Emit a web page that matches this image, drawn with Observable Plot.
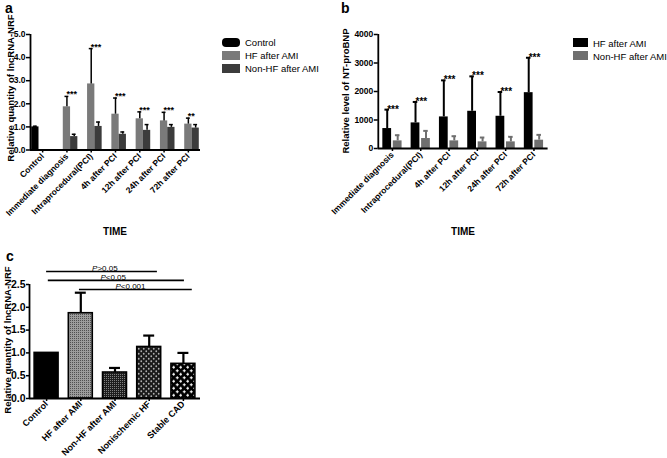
<!DOCTYPE html>
<html><head><meta charset="utf-8">
<script src="https://cdn.jsdelivr.net/npm/d3@7"></script>
<script src="https://cdn.jsdelivr.net/npm/@observablehq/plot@0.6"></script>
<style>
body{margin:0;background:#fff;}
#root{position:relative;width:667px;height:458px;overflow:hidden;font-family:"Liberation Sans",Arial,sans-serif;color:#000;}
.abs{position:absolute;white-space:nowrap;}
.ctr{transform:translate(-50%,-50%);}
.rot{transform:translate(-50%,-50%) rotate(-90deg);}
.panel svg{overflow:visible;}
.panel [aria-label*="axis"] line,.panel [aria-label*="axis"] path{stroke-width:1.5px;}
#pc [aria-label^="x-axis"] text{font-size:9px;}
.sw{position:absolute;}
</style></head>
<body>
<svg width="0" height="0" style="position:absolute">
<defs>
<pattern id="pHF" width="2" height="2" patternUnits="userSpaceOnUse"><rect width="2" height="2" fill="#9c9c9c"/><rect width="1" height="1" fill="#505050"/></pattern>
<pattern id="pNonHF" width="2" height="2" patternUnits="userSpaceOnUse"><rect width="2" height="2" fill="#1e1e1e"/><rect width="1" height="1" fill="#808080"/></pattern>
<pattern id="pNonisch" width="5" height="5" patternUnits="userSpaceOnUse"><rect width="5" height="5" fill="#1a1a1a"/><circle cx="1.25" cy="1.25" r="0.9" fill="#b0b0b0"/><circle cx="3.75" cy="3.75" r="0.9" fill="#b0b0b0"/></pattern>
<pattern id="pStable" width="7" height="7" patternUnits="userSpaceOnUse"><rect width="7" height="7" fill="#000"/><path d="M0.75,1.75h3M2.25,0.25v3M4.25,5.25h3M5.75,3.75v3" stroke="#fff" stroke-width="1"/></pattern>
</defs></svg>
<div id="root"></div>
<script>
// ---------- Panel a data ----------
const groupsA = ["Control","Immediate diagnosis","Intraprocedural(PCI)","4h after PCI","12h after PCI","24h after PCI","72h after PCI"];
const seriesA = ["Control","HF after AMI","Non-HF after AMI"];
const meanControlA = [1.00, null, null, null, null, null, null];
const errControlA  = [1.03, null, null, null, null, null, null];
const meanHFA      = [null, 1.87, 2.86, 1.55, 1.35, 1.26, 1.12];
const errHFA       = [null, 2.32, 4.39, 2.25, 1.65, 1.63, 1.38];
const meanNonHFA   = [null, 0.58, 1.02, 0.68, 0.85, 0.98, 0.95];
const errNonHFA    = [null, 0.68, 1.21, 0.78, 1.10, 1.10, 1.10];
const starsA       = ["", "***", "***", "***", "***", "***", "**"];
const ticksA = [0, 1, 2, 3, 4, 5];

// ---------- Panel b data ----------
const groupsB = ["Immediate diagnosis","Intraprocedural(PCI)","4h after PCI","12h after PCI","24h after PCI","72h after PCI"];
const seriesB = ["HF after AMI","Non-HF after AMI"];
const meanHFB    = [700, 898, 1108, 1306, 1131, 1959];
const errHFB     = [1364, 1633, 2391, 2531, 1982, 3184];
const meanNonHFB = [268, 350, 268, 233, 233, 292];
const errNonHFB  = [466, 618, 431, 385, 408, 478];
const starsB     = ["***", "***", "***", "***", "***", "***"];
const ticksB = [0, 1000, 2000, 3000, 4000];

// ---------- Panel c data ----------
const groupsC = ["Control","HF after AMI","Non-HF after AMI","Nonischemic HF","Stable CAD"];
const meanC = [1.00, 1.87, 0.57, 1.13, 0.76];
const errC  = [null, 2.32, 0.67, 1.38, 1.00];
const ticksC = [0, 0.5, 1.0, 1.5, 2.0, 2.5];
const sigTextC  = [">0.05", "<0.05", "<0.001"];
const sigFromC  = [0, 0.05, 0.96];
const sigToC    = [3.24, 4.03, 4.26];
const sigLevelC = [2.785, 2.59, 2.39];
const sigLabelAtC = [1.485, 1.73, 2.17];

// ---------- styles ----------
const colorsA = ["#000000", "#7a7a7a", "#3c3c3c"];
const colorsB = ["#000000", "#6f6f6f"];
const fillsC = ["#000000", "url(#pHF)", "url(#pNonHF)", "url(#pNonisch)", "url(#pStable)"];

const root = document.getElementById("root");
function place(el, left, top, id) {
  const d = document.createElement("div");
  d.className = "abs panel"; d.style.left = left + "px"; d.style.top = top + "px";
  if (id) d.id = id;
  d.appendChild(el); root.appendChild(d); return d;
}
function label(text, x, y, cls, css) {
  const d = document.createElement("div");
  d.className = "abs " + cls; d.textContent = text;
  d.style.left = x + "px"; d.style.top = y + "px";
  Object.assign(d.style, css || {});
  root.appendChild(d); return d;
}
const fontBold = {fontFamily: "'Liberation Sans', Arial, sans-serif", fontWeight: "bold", background: "transparent", overflow: "visible"};

// ---------- Panel a ----------
const rowsA = [];
const arrA = [[meanControlA, errControlA], [meanHFA, errHFA], [meanNonHFA, errNonHFA]];
groupsA.forEach((g, i) => {
  arrA.forEach(([m, e], k) => {
    if (m[i] != null) {
      const x1 = i + 0.05 + 0.3 * k, x2 = x1 + 0.3;
      rowsA.push({i, k, s: seriesA[k], v: m[i], e: e[i], x1, x2, c: (x1 + x2) / 2, star: k === 1 ? starsA[i] : ""});
    }
  });
});
const plotA = Plot.plot({
  width: 210, height: 240, marginLeft: 30, marginRight: 10, marginTop: 34, marginBottom: 90.5,
  style: {...fontBold, fontSize: "8.5px"},
  x: {type: "linear", domain: [0, groupsA.length], ticks: groupsA.map((_, i) => i + 0.5), tickFormat: v => groupsA[Math.floor(v)], tickRotate: -45, tickSize: 3, tickPadding: 2, label: null},
  y: {domain: [0, 5], ticks: ticksA, tickSize: 4, tickPadding: 1, label: null},
  color: {domain: seriesA, range: colorsA},
  marks: [
    Plot.rectY(rowsA, {x1: "x1", x2: "x2", y1: 0, y2: "v", fill: "s"}),
    Plot.ruleX(rowsA, {x: "c", y1: "v", y2: "e", strokeWidth: 1.5}),
    Plot.ruleY(rowsA, {y: "e", x1: d => d.c - 0.08, x2: d => d.c + 0.08, strokeWidth: 1.5}),
    Plot.text(rowsA.filter(d => d.star), {x: "c", y: "e", text: "star", textAnchor: "start", lineAnchor: "bottom", dx: -0.5, dy: 1, fontSize: 9, fill: "#000"}),
    Plot.ruleX([0], {strokeWidth: 1.8}),
    Plot.ruleY([0], {strokeWidth: 1.8})
  ]
});
place(plotA, 0, 0, "pa");

// ---------- Panel b ----------
const rowsB = [];
const arrB = [[meanHFB, errHFB], [meanNonHFB, errNonHFB]];
groupsB.forEach((g, i) => {
  arrB.forEach(([m, e], k) => {
    const x1 = i + (k === 0 ? 0.16 : 0.53), x2 = x1 + 0.31;
    rowsB.push({i, k, s: seriesB[k], v: m[i], e: e[i], x1, x2, c: (x1 + x2) / 2, star: k === 0 ? starsB[i] : ""});
  });
});
const plotB = Plot.plot({
  width: 225, height: 240, marginLeft: 47.8, marginRight: 7.4, marginTop: 34, marginBottom: 92,
  style: {...fontBold, fontSize: "8.5px"},
  x: {type: "linear", domain: [0, groupsB.length], ticks: groupsB.map((_, i) => i + 0.5), tickFormat: v => groupsB[Math.floor(v)], tickRotate: -45, tickSize: 3, tickPadding: 2, label: null},
  y: {domain: [0, 4000], ticks: ticksB, tickFormat: d => String(d), tickSize: 4, tickPadding: 1, label: null},
  color: {domain: seriesB, range: colorsB},
  marks: [
    Plot.rectY(rowsB, {x1: "x1", x2: "x2", y1: 0, y2: "v", fill: "s"}),
    Plot.ruleX(rowsB, {x: "c", y1: "v", y2: "e", strokeWidth: 2, stroke: "s"}),
    Plot.ruleY(rowsB, {y: "e", x1: d => d.c - 0.08, x2: d => d.c + 0.08, strokeWidth: 2, stroke: "s"}),
    Plot.text(rowsB.filter(d => d.star), {x: "c", y: "e", text: "star", textAnchor: "start", lineAnchor: "bottom", dx: 0, dy: 3, fontSize: 10, fill: "#000"}),
    Plot.ruleX([0], {strokeWidth: 1.8}),
    Plot.ruleY([0], {strokeWidth: 1.8})
  ]
});
place(plotB, 330, 0, "pb");

// ---------- Panel c ----------
const rowsC = groupsC.map((g, i) => ({i, g, v: meanC[i], e: errC[i]}));
const sigC = sigTextC.map((t, j) => ({t, from: sigFromC[j], to: sigToC[j], level: sigLevelC[j], at: sigLabelAtC[j]}));
const plotC = Plot.plot({
  width: 210, height: 208, marginLeft: 29, marginRight: 10, marginTop: 34, marginBottom: 60,
  style: {...fontBold, fontSize: "10.5px"},
  x: {type: "linear", domain: [-0.5, groupsC.length - 0.5], ticks: groupsC.map((_, i) => i), tickFormat: v => groupsC[v], tickRotate: -45, tickSize: 3, tickPadding: 1, label: null},
  y: {domain: [0, 2.5], ticks: ticksC, tickFormat: d => d.toFixed(1), tickSize: 3, tickPadding: 1, label: null},
  color: {domain: groupsC, range: fillsC},
  marks: [
    Plot.ruleX(rowsC.filter(d => d.e != null), {x: "i", y1: "v", y2: "e", strokeWidth: 2.2}),
    Plot.ruleY(rowsC.filter(d => d.e != null), {y: "e", x1: d => d.i - 0.16, x2: d => d.i + 0.16, strokeWidth: 2.2}),
    Plot.rectY(rowsC, {x1: d => d.i - 0.35, x2: d => d.i + 0.35, y1: 0, y2: "v", fill: "g", stroke: "#000", strokeWidth: 1.6}),
    Plot.ruleY(sigC, {y: "level", x1: "from", x2: "to", strokeWidth: 1.6}),
    Plot.text(sigC, {x: "at", y: "level", text: () => "P", textAnchor: "end", lineAnchor: "bottom", dy: -0.5, fontSize: 8, fontWeight: "normal", fontStyle: "italic", fill: "#000"}),
    Plot.text(sigC, {x: "at", y: "level", text: "t", textAnchor: "start", lineAnchor: "bottom", dy: -0.5, fontSize: 8, fontWeight: "normal", fill: "#000"}),
    Plot.ruleX([-0.5], {strokeWidth: 1.8}),
    Plot.ruleY([0], {strokeWidth: 1.8})
  ]
});
place(plotC, 0, 250, "pc");

// ---------- Text labels ----------
label("a", 5, 0, "", {fontSize: "14px", fontWeight: "bold", lineHeight: "normal"});
label("b", 341, 0, "", {fontSize: "14px", fontWeight: "bold", lineHeight: "normal"});
label("c", 6, 248, "", {fontSize: "14px", fontWeight: "bold", lineHeight: "normal"});
label("Relative quantity of lncRNA-NRF", 10, 88, "rot", {fontSize: "9.5px", fontWeight: "bold"});
label("Relative level of NT-proBNP", 345, 91, "rot", {fontSize: "9.5px", fontWeight: "bold"});
label("Relative quantity of lncRNA-NRF", 7, 340, "rot", {fontSize: "9.5px", fontWeight: "bold"});
label("TIME", 115, 231, "ctr", {fontSize: "10px", fontWeight: "bold"});
label("TIME", 463, 231, "ctr", {fontSize: "10px", fontWeight: "bold"});

// ---------- Legends ----------
function legend(series, colors, x, ys, sw, sh, tx, radius) {
  series.forEach((s, k) => {
    const b = document.createElement("div");
    b.className = "sw";
    Object.assign(b.style, {left: x + "px", top: (ys[k] - sh / 2) + "px", width: sw + "px", height: sh + "px", background: colors[k], borderRadius: (radius[k] || 0) + "px"});
    root.appendChild(b);
    label(s, tx, ys[k], "", {fontSize: "9.5px", transform: "translateY(-50%)"});
  });
}
legend(seriesA, colorsA, 222, [42, 55, 68], 18, 9, 245, [4, 0, 0]);
legend(seriesB, colorsB, 573, [42.5, 55.5], 15, 8.5, 593, [0, 0]);
</script>
</body></html>
